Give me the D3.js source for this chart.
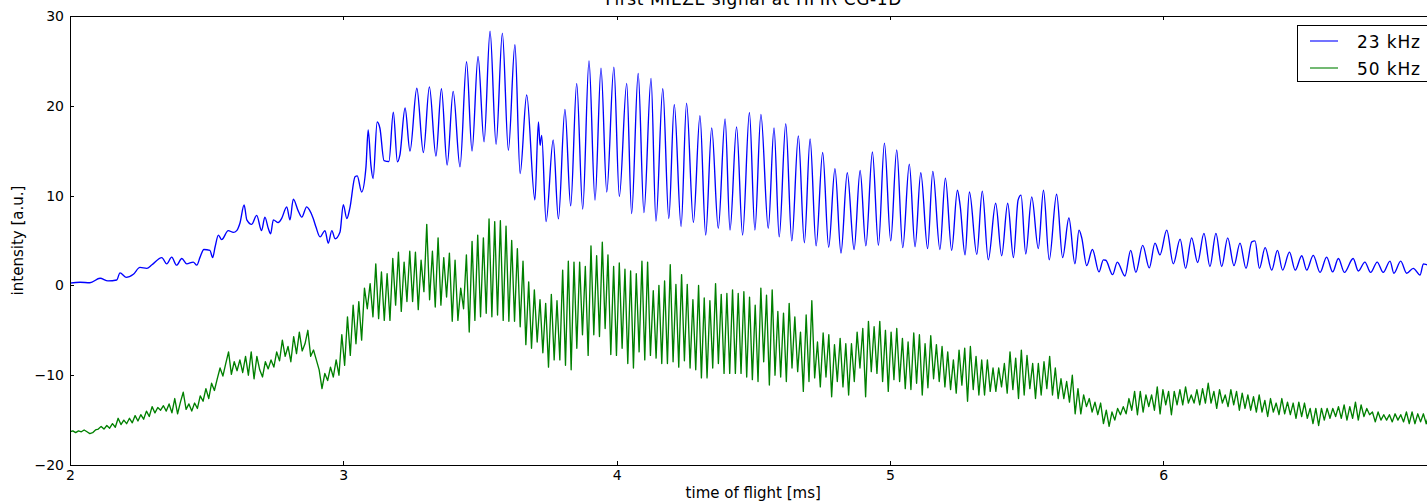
<!DOCTYPE html>
<html>
<head>
<meta charset="utf-8">
<script src="https://cdn.jsdelivr.net/npm/d3@7"></script>
<style>
  html, body { margin: 0; padding: 0; background: #fff; }
  svg { display: block; }
  text { font-family: "DejaVu Sans", sans-serif; fill: #000; }
</style>
</head>
<body>
<svg id="chart" width="1427" height="502"></svg>
<script>
// ---- data -------------------------------------------------------------
const chartTitle = "First MIEZE signal at HFIR CG-1D";
const xLabel = "time of flight [ms]";
const yLabel = "intensity [a.u.]";
const xTicks = [2, 3, 4, 5, 6];
const yTicks = [-20, -10, 0, 10, 20, 30];
const seriesNames = ["23 kHz", "50 kHz"];
const seriesColors = ["#0000ff", "#008000"];

// 23 kHz signal: [time of flight (ms), intensity]
const signal23kHz = [
  [2.000,0.25],[2.037,0.35],[2.073,0.3],[2.110,0.8],[2.139,0.5],[2.171,0.6],[2.183,1.4],[2.205,0.9],
  [2.232,1.25],[2.256,2.0],[2.281,1.9],[2.300,2.3],[2.336,3.1],[2.354,2.4],[2.372,3.15],[2.390,2.25],
  [2.409,3.0],[2.427,2.4],[2.451,2.6],[2.464,2.25],[2.476,3.15],[2.490,4.0],[2.512,3.9],[2.522,3.1],
  [2.531,4.3],[2.543,5.6],[2.555,5.1],[2.579,6.1],[2.598,5.9],[2.610,6.1],[2.622,6.95],[2.637,8.95],
  [2.647,7.3],[2.665,6.8],[2.683,7.8],[2.701,6.1],[2.713,7.6],[2.726,6.3],[2.734,5.75],[2.744,7.3],
  [2.762,7.0],[2.775,7.5],[2.793,8.75],[2.805,7.3],[2.817,9.6],[2.835,8.3],[2.848,7.6],[2.866,8.75],
  [2.876,8.4],[2.890,7.45],[2.900,6.5],[2.915,5.4],[2.933,6.1],[2.945,4.7],[2.958,6.1],[2.970,5.2],
  [2.988,5.95],[3.000,9.0],[3.013,7.45],[3.024,8.6],[3.043,12.1],[3.051,12.2],[3.067,10.4],[3.083,13.2],
  [3.091,17.3],[3.101,13.4],[3.109,11.9],[3.124,18.2],[3.134,17.5],[3.149,13.9],[3.167,13.8],[3.183,19.3],
  [3.198,13.75],[3.207,14.5],[3.226,19.75],[3.244,14.95],[3.269,21.95],[3.293,14.8],[3.315,22.1],[3.339,14.4],
  [3.359,21.9],[3.380,13.4],[3.402,21.6],[3.427,13.2],[3.451,24.9],[3.471,14.95],[3.493,25.5],[3.515,16.0],
  [3.537,28.3],[3.559,15.7],[3.582,28.1],[3.604,15.05],[3.628,26.8],[3.647,12.45],[3.671,21.2],[3.701,9.5],
  [3.714,18.2],[3.720,15.6],[3.726,16.7],[3.742,7.1],[3.768,16.2],[3.787,7.4],[3.811,19.6],[3.832,8.85],
  [3.854,22.5],[3.876,8.5],[3.899,25.0],[3.921,9.5],[3.943,24.2],[3.964,10.4],[3.990,24.3],[4.010,9.9],
  [4.037,22.5],[4.055,8.0],[4.079,23.6],[4.100,8.1],[4.126,23.05],[4.144,7.15],[4.169,21.9],[4.191,7.45],
  [4.211,20.15],[4.236,6.55],[4.256,20.3],[4.281,7.0],[4.305,18.9],[4.326,5.6],[4.348,17.55],[4.372,6.35],
  [4.397,18.55],[4.415,6.15],[4.439,17.65],[4.461,5.6],[4.486,19.25],[4.506,6.15],[4.528,19.05],[4.555,6.35],
  [4.576,17.55],[4.595,5.4],[4.619,18.0],[4.641,4.95],[4.665,16.65],[4.687,4.75],[4.708,16.3],[4.730,4.4],
  [4.754,14.8],[4.776,4.25],[4.799,13.0],[4.821,3.6],[4.844,12.55],[4.869,4.0],[4.891,12.8],[4.912,4.4],
  [4.936,14.85],[4.958,4.45],[4.980,15.85],[5.003,4.95],[5.025,15.1],[5.047,4.2],[5.071,13.5],[5.092,4.3],
  [5.113,12.55],[5.138,4.1],[5.157,12.7],[5.183,4.0],[5.203,11.95],[5.226,3.9],[5.247,10.6],[5.257,8.9],
  [5.275,3.4],[5.291,10.4],[5.318,3.45],[5.338,10.5],[5.360,2.85],[5.387,9.15],[5.409,3.3],[5.431,9.15],
  [5.452,3.1],[5.469,9.5],[5.480,10.05],[5.497,3.5],[5.519,9.85],[5.543,4.1],[5.562,10.6],[5.583,2.85],
  [5.610,10.15],[5.632,3.1],[5.655,7.5],[5.677,2.4],[5.692,6.15],[5.702,5.3],[5.720,2.2],[5.741,4.0],
  [5.765,1.5],[5.781,2.85],[5.790,2.8],[5.815,1.2],[5.832,2.6],[5.860,1.05],[5.881,3.9],[5.900,1.45],
  [5.925,4.45],[5.949,1.95],[5.970,4.7],[5.988,3.4],[6.013,6.15],[6.037,2.4],[6.062,5.15],[6.082,1.9],
  [6.104,5.3],[6.126,2.55],[6.149,5.8],[6.171,2.1],[6.193,5.8],[6.214,2.1],[6.236,5.3],[6.259,2.2],
  [6.281,4.7],[6.303,1.9],[6.324,4.85],[6.336,4.95],[6.352,1.9],[6.373,4.2],[6.397,1.7],[6.418,3.9],
  [6.437,1.7],[6.462,3.7],[6.483,1.7],[6.507,3.3],[6.525,1.7],[6.549,3.35],[6.574,1.45],[6.598,3.15],
  [6.620,1.5],[6.641,3.0],[6.663,1.45],[6.695,3.0],[6.714,1.6],[6.738,2.6],[6.759,1.45],[6.783,2.6],
  [6.805,1.45],[6.830,2.7],[6.844,1.35],[6.869,2.7],[6.891,1.35],[6.915,1.9],[6.940,1.15],[6.952,2.4],
  [6.966,2.3],[7.000,2.2]
];

// 50 kHz signal: intensities on a uniform time grid
const signal50kHzStart = 2.0;   // ms
const signal50kHzStep = 0.01036; // ms
const signal50kHz = [
  -16.3,-16.2,-16.4,-16.2,-16.3,-16.1,-16.3,-16.5,-16.4,-16.1,
  -16.0,-15.7,-16.0,-15.6,-15.9,-15.4,-15.8,-14.8,-15.5,-15.0,
  -15.4,-14.8,-15.3,-14.5,-15.1,-14.4,-14.9,-14.0,-14.6,-13.5,
  -14.2,-13.6,-13.9,-13.4,-14.0,-13.2,-14.2,-12.6,-14.3,-13.0,
  -11.9,-13.8,-13.2,-14.0,-13.1,-13.7,-12.3,-12.9,-11.5,-12.6,
  -10.9,-11.7,-10.4,-9.2,-10.1,-8.7,-7.4,-9.9,-8.5,-9.5,
  -8.3,-9.7,-7.9,-10.0,-7.4,-10.4,-7.9,-9.4,-10.2,-8.5,
  -9.3,-8.3,-9.1,-7.4,-8.4,-6.1,-7.9,-6.8,-8.5,-5.7,
  -7.6,-5.2,-7.3,-6.5,-5.0,-7.9,-7.2,-8.3,-9.4,-11.5,
  -9.8,-10.6,-9.1,-10.2,-8.3,
  -10.0,-5.5,-8.9,-3.5,-7.8,-2.2,-6.5,-1.8,-6.1,-0.3,
  -2.6,0.2,-3.5,2.4,-3.7,1.5,-3.9,1.3,-3.9,3.0,
  -2.2,3.7,-2.9,2.6,-1.8,3.8,-1.8,3.7,-2.7,2.8,
  -0.7,6.8,-1.6,3.8,-2.4,5.3,-2.2,3.1,-1.3,3.6,
  -4.0,2.8,-3.9,-0.3,-2.6,3.4,-5.2,4.9,-3.9,5.6,
  -3.5,5.3,-3.1,7.4,-3.5,7.1,-3.3,7.2,-3.9,6.6,
  -4.0,5.0,-4.0,4.1,-4.6,2.7,
  -6.6,0.4,-7.0,-0.5,-6.3,-1.6,-7.5,-2.0,-9.1,-1.0,
  -8.3,-1.7,-8.3,1.7,-8.9,2.7,-9.4,2.6,-7.0,2.6,
  -5.5,2.1,-7.8,4.4,-5.5,3.3,-5.7,4.8,-4.8,3.4,
  -7.7,2.1,-7.8,2.5,-7.0,1.8,-8.7,1.6,-9.2,1.3,
  -7.4,2.7,-8.3,2.6,-7.8,-0.6,-8.1,0.0,-8.7,0.5,
  -8.7,2.3,-8.5,0.1,-9.1,1.2,-8.4,0.1,-9.2,-1.6,
  -9.4,0.0,-10.3,
  -1.4,-10.3,-1.7,-9.2,0.2,-8.7,-1.0,-9.8,-0.9,-9.8,
  -0.5,-9.8,-0.9,-9.8,-0.7,-10.2,-1.3,-10.5,-2.2,-10.7,
  -0.3,-8.5,-1.1,-11.1,-0.5,-10.0,-2.9,-10.2,-3.1,-10.7,
  -2.0,-9.2,-3.5,-9.6,-5.2,-11.8,-3.3,-10.7,-1.7,-10.3,
  -6.3,-11.3,-5.3,-10.2,-5.5,-12.4,-6.6,-10.7,-5.9,-11.3,
  -6.5,-12.2,-6.5,-10.7,-5.2,-9.2,-4.8,-12.4,-4.0,-9.6,
  -4.6,-9.8,-4.0,
  -10.7,-5.0,-11.8,-5.2,-10.5,-4.8,-10.7,-5.9,-11.5,-6.3,
  -11.6,-5.3,-10.9,-5.5,-12.2,-6.5,-11.4,-5.6,-10.4,-6.6,
  -10.7,-6.8,-11.3,-7.4,-11.6,-8.3,-12.0,-7.2,-11.1,-7.0,
  -12.9,-6.8,-11.6,-7.9,-12.2,-8.3,-12.2,-8.3,-11.8,-9.2,
  -11.8,-9.2,-11.3,-8.7,-12.0,-7.4,-11.6,-8.1,-12.6,-7.2,
  -12.2,-7.8,-11.5,-8.7,-12.6,-8.7,-12.2,-8.5,-11.5,-7.9,
  -12.2,-9.2,-12.6,
  -10.4,-12.6,-10.7,-13.0,-10.0,-14.3,-11.5,-14.3,-12.2,-13.5,
  -12.6,-14.1,-13.0,-14.4,-13.1,-15.4,-13.9,-15.7,-14.1,-15.0,
  -13.7,-14.4,-13.5,-14.3,-12.6,-13.9,-11.8,-14.4,-11.8,-14.1,
  -12.2,-13.5,-12.2,-13.9,-11.3,-14.3,-11.6,-13.3,-11.8,-14.4,
  -11.8,-13.3,-11.6,-13.3,-11.3,-13.1,-12.2,-13.1,-11.6,-13.3,
  -11.5,-13.1,-10.9,-13.1,-11.8,-13.7,-11.6,-13.1,-12.2,-13.5,
  -11.6,-13.3,-11.8,-13.9,
  -12.0,-13.7,-12.2,-13.9,-12.4,-14.1,-12.2,-14.1,-12.8,-14.6,
  -12.6,-14.1,-13.1,-14.4,-12.6,-14.3,-13.0,-14.4,-13.1,-14.8,
  -13.0,-14.6,-13.1,-14.8,-13.7,-15.4,-13.7,-15.6,-13.7,-15.0,
  -13.7,-14.8,-13.7,-14.6,-13.5,-14.8,-13.3,-15.0,-13.5,-14.8,
  -13.0,-15.0,-13.3,-14.6,-13.7,-14.4,-14.1,-15.2,-14.1,-15.0,
  -14.4,-15.0,-14.4,-15.2,-14.3,-15.0,-14.4,-15.2,-14.1,-15.4,
  -14.1,-15.4,-14.3,-15.2,-14.3,-15.4,-14.3,
  -15.0,-14.4,-15.1
];

// ---- layout -----------------------------------------------------------
const svg = d3.select("#chart");
const plot = { left: 70, top: 16, right: 1436.5, bottom: 465 };

const x = d3.scaleLinear().domain([2, 7]).range([plot.left, plot.right]);
const y = d3.scaleLinear().domain([-20, 30]).range([plot.bottom, plot.top]);

svg.append("defs").append("clipPath").attr("id", "plot-clip")
  .append("rect")
  .attr("x", plot.left).attr("y", plot.top)
  .attr("width", plot.right - plot.left).attr("height", plot.bottom - plot.top);

const lines = svg.append("g").attr("clip-path", "url(#plot-clip)");

const line23 = d3.line()
  .x(d => x(d[0]))
  .y(d => y(d[1]))
  .curve(d3.curveMonotoneX);

const line50 = d3.line()
  .x((d, i) => x(signal50kHzStart + i * signal50kHzStep))
  .y(d => y(d));

lines.append("path")
  .datum(signal23kHz)
  .attr("d", line23)
  .attr("fill", "none")
  .attr("stroke", seriesColors[0])
  .attr("stroke-width", 1.35)
  .attr("stroke-linejoin", "round");

lines.append("path")
  .datum(signal50kHz)
  .attr("d", line50)
  .attr("fill", "none")
  .attr("stroke", seriesColors[1])
  .attr("stroke-width", 1.35)
  .attr("stroke-linejoin", "round");

// ---- axes (ticks point inward on all sides) ----------------------------
function styleAxis(g) {
  g.select(".domain").remove();
  g.attr("font-family", "DejaVu Sans").attr("font-size", 14);
  g.selectAll(".tick line").attr("stroke", "#000").attr("shape-rendering", "crispEdges");
  g.selectAll(".tick text").attr("fill", "#000");
}

svg.append("g")
  .attr("transform", `translate(0,${plot.bottom})`)
  .call(d3.axisBottom(x).tickValues(xTicks).tickSizeInner(-4).tickSizeOuter(0)
    .tickPadding(5).tickFormat(d3.format("d")))
  .call(styleAxis);

svg.append("g")
  .attr("transform", `translate(0,${plot.top})`)
  .call(d3.axisTop(x).tickValues(xTicks).tickSizeInner(-4).tickSizeOuter(0).tickFormat(() => ""))
  .call(styleAxis);

svg.append("g")
  .attr("transform", `translate(${plot.left},0)`)
  .call(d3.axisLeft(y).tickValues(yTicks).tickSizeInner(-4).tickSizeOuter(0)
    .tickPadding(6).tickFormat(d3.format("d")))
  .call(styleAxis);

svg.append("g")
  .attr("transform", `translate(${plot.right},0)`)
  .call(d3.axisRight(y).tickValues(yTicks).tickSizeInner(-4).tickSizeOuter(0).tickFormat(() => ""))
  .call(styleAxis);

// frame
svg.append("rect")
  .attr("x", plot.left).attr("y", plot.top)
  .attr("width", plot.right - plot.left).attr("height", plot.bottom - plot.top)
  .attr("fill", "none").attr("stroke", "#000").attr("stroke-width", 1)
  .attr("shape-rendering", "crispEdges");

// ---- labels -----------------------------------------------------------
svg.append("text")
  .attr("x", (plot.left + plot.right) / 2).attr("y", 4.5)
  .attr("text-anchor", "middle").attr("font-size", 17)
  .attr("textLength", 296).attr("lengthAdjust", "spacing")
  .text(chartTitle);

svg.append("text")
  .attr("x", (plot.left + plot.right) / 2).attr("y", 498)
  .attr("text-anchor", "middle").attr("font-size", 15)
  .text(xLabel);

svg.append("text")
  .attr("transform", `translate(23,${(plot.top + plot.bottom) / 2}) rotate(-90)`)
  .attr("text-anchor", "middle").attr("font-size", 15)
  .text(yLabel);

// ---- legend -----------------------------------------------------------
const legend = svg.append("g");
legend.append("rect")
  .attr("x", 1297.5).attr("y", 25.5).attr("width", 140).attr("height", 56)
  .attr("fill", "#fff").attr("stroke", "#000").attr("stroke-width", 1)
  .attr("shape-rendering", "crispEdges");

seriesNames.forEach((name, i) => {
  const ly = 41 + i * 27;
  legend.append("line")
    .attr("x1", 1310).attr("x2", 1338).attr("y1", ly).attr("y2", ly)
    .attr("stroke", seriesColors[i]).attr("stroke-width", 1.1);
  legend.append("text")
    .attr("x", 1357).attr("y", ly + 6.7)
    .attr("font-size", 17)
    .attr("textLength", 63).attr("lengthAdjust", "spacing")
    .text(name);
});
</script>
</body>
</html>
